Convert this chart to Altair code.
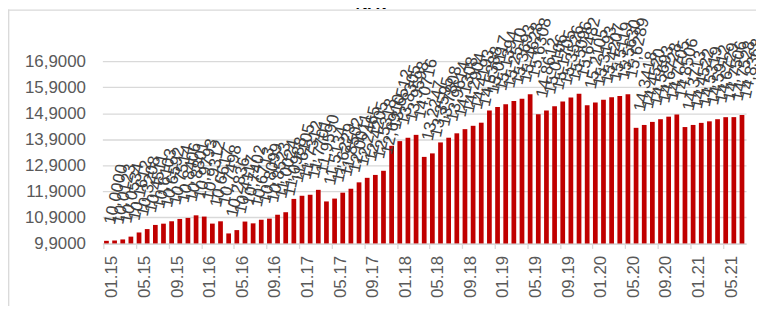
import altair as alt
import pandas as pd

# Month labels (01.15 ... 07.21)
months = [f"{m:02d}.{y:02d}" for y in range(15, 22) for m in range(1, 13)][:79]

# NAV values
nav = [
    10.0000, 10.0123, 10.0534, 10.1612, 10.3208, 10.4511, 10.6103, 10.6592,
    10.7514, 10.8406, 10.8801, 10.9793, 10.9312, 10.6617, 10.7498, 10.2836,
    10.4117, 10.7402, 10.6713, 10.8099, 10.8523, 11.0024, 11.0988, 11.6105,
    11.7312, 11.7701, 11.9590, 11.5134, 11.6229, 11.8502, 12.0011, 12.2465,
    12.4205, 12.5318, 12.6910, 13.6512, 13.8305, 13.9598, 14.0716, 13.2247,
    13.3595, 13.7808, 13.9614, 14.1308, 14.2904, 14.4193, 14.5388, 15.0117,
    15.1394, 15.2510, 15.3693, 15.4628, 15.6308, 14.8612, 15.0106, 15.1705,
    15.3526, 15.5096, 15.6482, 15.2105, 15.3193, 15.4207, 15.5119, 15.5630,
    15.6289, 14.3418, 14.4520, 14.5693, 14.6728, 14.7705, 14.8506, 14.3713,
    14.4522, 14.5319, 14.5912, 14.6729, 14.7506, 14.7528, 14.8368,
]

y_ticks = [9.9, 10.9, 11.9, 12.9, 13.9, 14.9, 15.9, 16.9]

df = pd.DataFrame({"month": months, "nav": nav})

FONT = "Liberation Sans"
W, H = 648, 209.6

x_enc = alt.X(
    "month:N",
    sort=months,
    scale=alt.Scale(paddingInner=0.42, paddingOuter=0.21),
    axis=alt.Axis(
        title=None,
        values=months[::4],
        bandPosition=0,
        labelAngle=270,
        labelOffset=6,
        labelPadding=7,
        labelOverlap=False,
        labelFont=FONT,
        labelFontSize=17,
        labelColor="#595959",
        tickSize=5,
        tickColor="#d9d9d9",
        tickWidth=1.3,
        domainColor="#d9d9d9",
        domainWidth=1.3,
        grid=False,
    ),
)

y_scale = alt.Scale(domain=[9.9, 17.9], zero=False, nice=False)

bars = alt.Chart(df).mark_bar(color="#c00000").encode(
    x=x_enc,
    y=alt.Y(
        "nav:Q",
        scale=y_scale,
        axis=alt.Axis(
            title=None,
            values=y_ticks,
            tickCount=40,
            labelExpr="replace(format(datum.value, '.4f'), '.', ',')",
            labelFont=FONT,
            labelFontSize=17,
            labelColor="#595959",
            labelPadding=17,
            labelOverlap=False,
            ticks=False,
            tickSize=0,
            domain=False,
            grid=True,
            gridColor="#d9d9d9",
            gridWidth=1.3,
        ),
    ),
    y2=alt.datum(9.9),
)

labels = (
    alt.Chart(df)
    .transform_calculate(lbl="replace(format(datum.nav, '.4f'), '.', ',')")
    .mark_text(
        angle=282,
        align="left",
        baseline="middle",
        dx=17,
        font=FONT,
        fontSize=17,
        color="#404040",
    )
    .encode(x=alt.X("month:N", sort=months), y=alt.Y("nav:Q", scale=y_scale), text="lbl:N")
)

title = (
    alt.Chart(pd.DataFrame({"t": ["NAV"]}))
    .mark_text(font=FONT, fontSize=17, fontWeight="bold", color="#000000", baseline="bottom", align="center")
    .encode(x=alt.value(272), y=alt.value(-22), text="t:N")
)

border_top = (
    alt.Chart(pd.DataFrame({"t": [0]}))
    .mark_rule(color="#d9d9d9", strokeWidth=1.3)
    .encode(x=alt.value(-95), x2=alt.value(660), y=alt.value(-25.3))
)
border_left = (
    alt.Chart(pd.DataFrame({"t": [0]}))
    .mark_rule(color="#d9d9d9", strokeWidth=1.3)
    .encode(x=alt.value(-94.3), y=alt.value(-26), y2=alt.value(300))
)

chart = (
    alt.layer(bars, labels, title, border_top, border_left)
    .properties(
        width=W,
        height=H,
        autosize=alt.AutoSizeParams(type="none"),
        padding={"left": 95, "top": 26.4, "right": 10, "bottom": 62},
    )
    .configure_view(stroke=None)
)

chart.save("out.html", embed_options={"renderer": "svg", "actions": False})
